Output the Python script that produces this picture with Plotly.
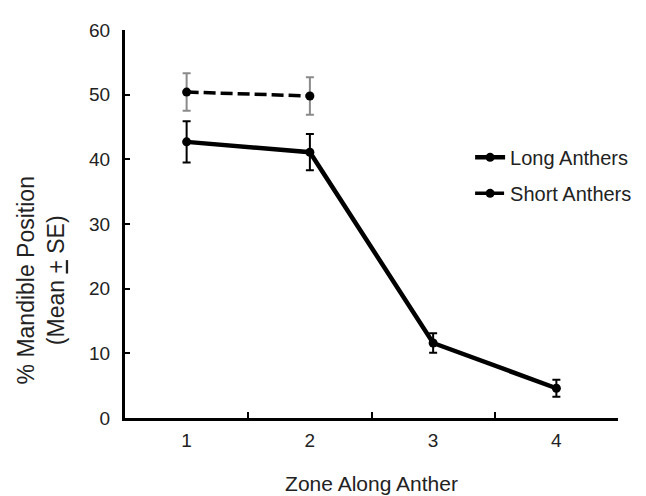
import plotly.graph_objects as go

zones = ["1", "2", "3", "4"]
long_mean = [42.7, 41.1, 11.6, 4.6]
long_se = [3.2, 2.8, 1.5, 1.3]
short_zones = ["1", "2"]
short_mean = [50.4, 49.8]
short_se = [2.9, 2.9]

FONT = "Liberation Sans, Arial, sans-serif"

fig = go.Figure()
fig.add_trace(go.Scatter(
    x=zones, y=long_mean, name="Long Anthers", mode="lines+markers",
    line=dict(color="black", width=4.5),
    marker=dict(color="black", size=9),
    error_y=dict(type="data", array=long_se, color="black", thickness=2, width=4),
    legendgroup="a",
))
fig.add_trace(go.Scatter(
    x=short_zones, y=short_mean, name="Short Anthers", mode="lines+markers",
    line=dict(color="black", width=3.5, dash="12px,5px"),
    marker=dict(color="black", size=9),
    error_y=dict(type="data", array=short_se, color="#8a8a8a", thickness=2, width=4),
    legendgroup="b",
))

fig.add_annotation(
    text="% Mandible Position<br>(Mean <u>+</u> SE)",
    xref="paper", yref="paper", x=-0.17, y=0.355,
    xanchor="center", yanchor="middle", textangle=-90, showarrow=False,
    font=dict(size=23, color="#222"),
)

fig.update_layout(
    width=646, height=496,
    margin=dict(l=117, r=36, t=15, b=82),
    paper_bgcolor="white", plot_bgcolor="white",
    font=dict(family=FONT, size=19, color="#222"),
    showlegend=True,
    legend=dict(x=0.70, y=0.722, xanchor="left", yanchor="top",
                font=dict(size=20, color="#222"), bgcolor="rgba(0,0,0,0)",
                tracegroupgap=7, itemwidth=30),
    xaxis=dict(
        type="category", range=[-0.5, 3.5], tickson="boundaries",
        ticks="inside", ticklen=6, tickwidth=2, tickcolor="black",
        showline=True, linecolor="black", linewidth=3,
        showgrid=False, zeroline=False,
        tickfont=dict(size=19), ticklabelstandoff=3,
        title=dict(text="Zone Along Anther", font=dict(size=21), standoff=27),
    ),
    yaxis=dict(
        range=[0, 60], tickvals=[0, 10, 20, 30, 40, 50, 60],
        ticks="inside", ticklen=5, tickwidth=2, tickcolor="black",
        showline=True, linecolor="black", linewidth=3,
        showgrid=False, zeroline=False,
        tickfont=dict(size=19), ticklabelstandoff=8,
    ),
)

fig.write_html("out.html")
